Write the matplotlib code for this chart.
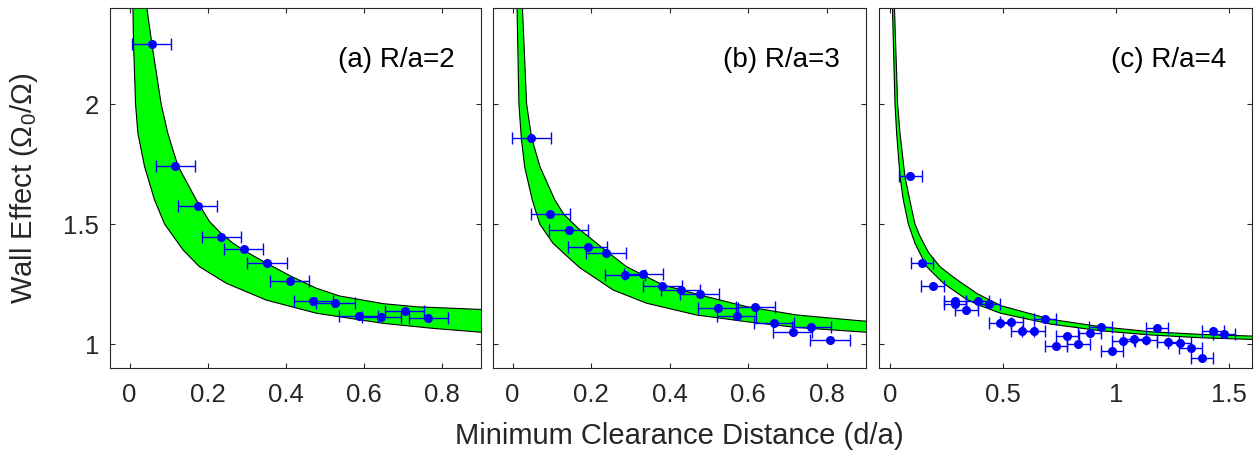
import numpy as np
import matplotlib
matplotlib.use("Agg")
import matplotlib.pyplot as plt

plt.rcParams['font.family'] = ['Liberation Sans', 'DejaVu Sans']
plt.rcParams['mathtext.fontset'] = 'custom'
plt.rcParams['mathtext.rm'] = 'Liberation Sans'
plt.rcParams['mathtext.it'] = 'Liberation Sans:italic'

# ---------------- data ----------------
# panel (a) R/a = 2
a_x = [0.057, 0.117, 0.175, 0.235, 0.293, 0.352, 0.410, 0.471, 0.527, 0.587, 0.645, 0.705, 0.765]
a_y = [2.25, 1.742, 1.576, 1.444, 1.397, 1.336, 1.263, 1.179, 1.169, 1.118, 1.114, 1.136, 1.110]
a_up_x = [0.0427, 0.0573, 0.081, 0.098, 0.124, 0.171, 0.205, 0.235, 0.265, 0.293, 0.325, 0.352,
          0.410, 0.479, 0.538, 0.650, 0.735, 0.90]
a_up_y = [2.42, 2.25, 2.0, 1.878, 1.742, 1.60, 1.51, 1.46, 1.42, 1.39, 1.36, 1.336,
          1.285, 1.232, 1.200, 1.168, 1.155, 1.144]
a_lo_x = [0.0085, 0.0103, 0.0154, 0.0214, 0.0385, 0.0641, 0.0897, 0.137, 0.179, 0.248, 0.350,
          0.479, 0.650, 0.778, 0.90]
a_lo_y = [2.42, 2.25, 2.0, 1.878, 1.739, 1.60, 1.50, 1.392, 1.322, 1.253, 1.183,
          1.128, 1.086, 1.065, 1.049]

# panel (b) R/a = 3
b_x = [0.048, 0.096, 0.143, 0.191, 0.238, 0.286, 0.333, 0.381, 0.428, 0.476, 0.523, 0.571, 0.618,
       0.666, 0.713, 0.761, 0.808]
b_y = [1.860, 1.540, 1.475, 1.403, 1.380, 1.286, 1.292, 1.242, 1.224, 1.207, 1.149, 1.115, 1.156,
       1.088, 1.050, 1.071, 1.018]
b_up_x = [0.0245, 0.0356, 0.0483, 0.0695, 0.1076, 0.1305, 0.167, 0.235, 0.290, 0.383, 0.477,
          0.595, 0.723, 0.884, 0.90]
b_up_y = [2.42, 2.0, 1.860, 1.739, 1.60, 1.540, 1.482, 1.392, 1.322, 1.246, 1.204,
          1.156, 1.121, 1.097, 1.095]
b_lo_x = [0.011, 0.016, 0.022, 0.0305, 0.050, 0.069, 0.1025, 0.149, 0.171, 0.256, 0.341, 0.468,
          0.595, 0.723, 0.90]
b_lo_y = [2.42, 2.0, 1.86, 1.739, 1.60, 1.50, 1.42, 1.35, 1.318, 1.225, 1.17, 1.121,
          1.093, 1.069, 1.049]

# panel (c) R/a = 4
c_x = [0.089, 0.140, 0.188, 0.287, 0.287, 0.337, 0.387, 0.436, 0.485, 0.535, 0.584, 0.634, 0.684,
       0.733, 0.783, 0.832, 0.882, 0.931, 0.981, 1.031, 1.080, 1.130, 1.179, 1.229, 1.280, 1.328,
       1.379, 1.427, 1.477]
c_y = [1.700, 1.336, 1.243, 1.179, 1.167, 1.142, 1.179, 1.168, 1.086, 1.093, 1.054, 1.054, 1.104,
       0.993, 1.035, 1.000, 1.047, 1.071, 0.970, 1.013, 1.019, 1.017, 1.067, 1.010, 1.006, 0.982,
       0.940, 1.054, 1.040]
c_up_x = [0.0177, 0.0325, 0.0428, 0.065, 0.086, 0.109, 0.131, 0.170, 0.220, 0.266, 0.301, 0.384,
          0.488, 0.709, 0.931, 1.152, 1.374, 1.60]
c_up_y = [2.42, 2.0, 1.878, 1.697, 1.60, 1.50, 1.45, 1.38, 1.322, 1.288, 1.264, 1.210,
          1.160, 1.103, 1.072, 1.051, 1.040, 1.033]
c_lo_x = [0.0089, 0.0207, 0.028, 0.043, 0.0576, 0.080, 0.109, 0.161, 0.235, 0.331, 0.384, 0.488,
          0.709, 0.931, 1.152, 1.374, 1.60]
c_lo_y = [2.42, 2.0, 1.878, 1.697, 1.60, 1.499, 1.42, 1.322, 1.253, 1.190, 1.165, 1.128,
          1.083, 1.055, 1.0375, 1.026, 1.019]

x_err = 0.05

labels = ['(a) R/a=2', '(b) R/a=3', '(c) R/a=4']
xlims = [(-0.05, 0.9), (-0.05, 0.9), (-0.05, 1.6)]
xticks = [[0, 0.2, 0.4, 0.6, 0.8], [0, 0.2, 0.4, 0.6, 0.8], [0, 0.5, 1, 1.5]]
xticklabels = [['0', '0.2', '0.4', '0.6', '0.8'], ['0', '0.2', '0.4', '0.6', '0.8'], ['0', '0.5', '1', '1.5']]
yticks = [1, 1.5, 2]
yticklabels = ['1', '1.5', '2']

panels = [
    (a_x, a_y, a_up_x, a_up_y, a_lo_x, a_lo_y),
    (b_x, b_y, b_up_x, b_up_y, b_lo_x, b_lo_y),
    (c_x, c_y, c_up_x, c_up_y, c_lo_x, c_lo_y),
]

W, H = 1258, 454
fig = plt.figure(figsize=(W / 100, H / 100), dpi=100)
lefts = [110, 493, 879]
widths = [371, 373, 373]
top_px, bot_px = 8, 368

edge = '#262626'
for i, (px, py, ux, uy, lx, ly) in enumerate(panels):
    ax = fig.add_axes([lefts[i] / W, 1 - bot_px / H, widths[i] / W, (bot_px - top_px) / H])
    poly_x = np.concatenate([ux, lx[::-1]])
    poly_y = np.concatenate([uy, ly[::-1]])
    ax.fill(poly_x, poly_y, color='#00ff00', lw=0, zorder=1)
    ax.plot(ux, uy, color='black', lw=0.8, zorder=2, solid_joinstyle='round')
    ax.plot(lx, ly, color='black', lw=0.8, zorder=2, solid_joinstyle='round')
    ax.errorbar(px, py, xerr=x_err, fmt='o', color='#0000ff', ms=5.5, elinewidth=1.0,
                capsize=4.3, capthick=1.0, zorder=3)
    ax.set_xlim(*xlims[i])
    ax.set_ylim(0.9, 2.4)
    ax.set_xticks(xticks[i])
    ax.set_xticklabels(xticklabels[i])
    ax.set_yticks(yticks)
    if i == 0:
        ax.set_yticklabels(yticklabels)
    else:
        ax.set_yticklabels([])
    ax.tick_params(direction='in', top=True, right=True, length=3.6, width=0.8,
                   labelsize=18.5, colors=edge, labelcolor=edge)
    ax.tick_params(axis='x', pad=11)
    ax.tick_params(axis='y', pad=8)
    for s in ax.spines.values():
        s.set_color(edge)
        s.set_linewidth(0.8)
    ax.text(0.93, 0.855, labels[i], transform=ax.transAxes, ha='right', va='center',
            fontsize=20, color='black')

fig.text(679 / W, 1 - 436 / H, 'Minimum Clearance Distance (d/a)', ha='center', va='center',
         fontsize=21, color=edge)
fig.text(24 / W, 1 - 188 / H, r'Wall Effect ($\Omega_0$/$\Omega$)', ha='center', va='center',
         rotation=90, fontsize=21, color=edge)

fig.savefig('out.png', dpi=100)
